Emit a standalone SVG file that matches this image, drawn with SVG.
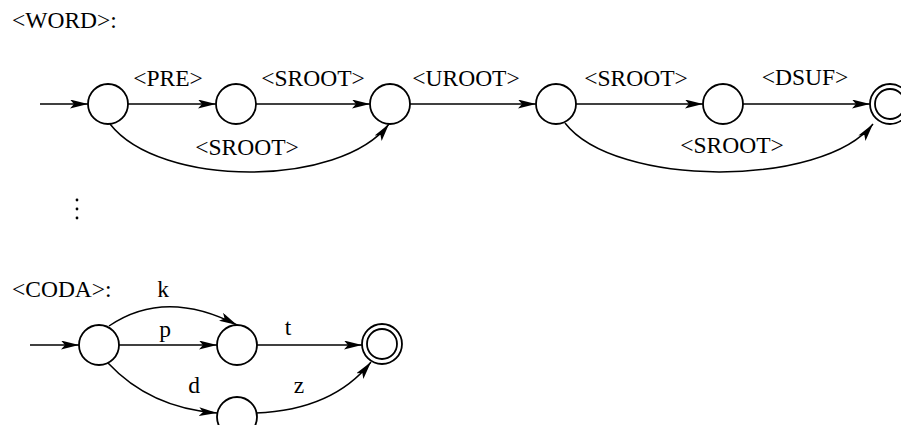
<svg xmlns="http://www.w3.org/2000/svg" width="901" height="425" viewBox="0 0 901 425">
<defs>
<style>
.n{fill:none;stroke:#000;stroke-width:1.8}
.e{fill:none;stroke:#000;stroke-width:1.5;marker-end:url(#ah)}
text{font-family:"Liberation Serif","Times New Roman",serif;font-size:23.5px;fill:#000}
.m{text-anchor:middle}
</style>
<marker id="ah" markerUnits="userSpaceOnUse" markerWidth="20" markerHeight="10" refX="18" refY="4.5" orient="auto">
<path d="M0,0 L18,4.5 L0,9 L4,4.5 z" fill="#000"/>
</marker>
</defs>
<rect width="901" height="425" fill="#fff"/>
<text x="12" y="28">&lt;WORD&gt;:</text>
<g id="w1"><circle class="n" cx="108" cy="104" r="20"/></g>
<g id="w2"><circle class="n" cx="236" cy="104" r="20"/></g>
<g id="w3"><circle class="n" cx="390" cy="104" r="20"/></g>
<g id="w4"><circle class="n" cx="556" cy="104" r="20"/></g>
<g id="w5"><circle class="n" cx="723" cy="104" r="20"/></g>
<g id="w6"><circle class="n" cx="890" cy="104" r="20"/><circle class="n" cx="890" cy="104" r="15"/></g>
<g id="dots"><circle cx="77" cy="200" r="1.4"/><circle cx="77" cy="209" r="1.4"/><circle cx="77" cy="218" r="1.4"/></g>
<text x="12" y="297">&lt;CODA&gt;:</text>
<g id="c1"><circle class="n" cx="99" cy="345" r="20"/></g>
<g id="c2"><circle class="n" cx="237" cy="345" r="20"/></g>
<g id="c3"><circle class="n" cx="382" cy="344" r="20"/><circle class="n" cx="382" cy="344" r="15"/></g>
<g id="c4"><circle class="n" cx="237" cy="417" r="20"/></g>
<g id="connectors">
<path class="e" d="M40,104 H88"/>
<path class="e" d="M128,104 H216"/>
<path class="e" d="M256,104 H370"/>
<path class="e" d="M410,104 H536"/>
<path class="e" d="M576,104 H703"/>
<path class="e" d="M743,104 H870"/>
<path class="e" d="M110,124 C160,188 340,188 389,124"/>
<path class="e" d="M565,123 C615,188 823,188 873,124"/>
<path class="e" d="M30,345 H79"/>
<path class="e" d="M119,345 H217"/>
<path class="e" d="M257,345 H362"/>
<path class="e" d="M109,326 Q165,288 237,325"/>
<path class="e" d="M108,363 Q150,408 217,413"/>
<path class="e" d="M256,413 Q333,410 371,362"/>
</g>
<g id="labels">
<text class="m" x="168" y="86">&lt;PRE&gt;</text>
<text class="m" x="313" y="86">&lt;SROOT&gt;</text>
<text class="m" x="466" y="86">&lt;UROOT&gt;</text>
<text class="m" x="636" y="86">&lt;SROOT&gt;</text>
<text class="m" x="805" y="85">&lt;DSUF&gt;</text>
<text class="m" x="247" y="155">&lt;SROOT&gt;</text>
<text class="m" x="732" y="153">&lt;SROOT&gt;</text>
<text class="m" x="163" y="297">k</text>
<text class="m" x="165" y="337">p</text>
<text class="m" x="288" y="335">t</text>
<text class="m" x="194" y="393">d</text>
<text class="m" x="299" y="393">z</text>
</g>
</svg>
